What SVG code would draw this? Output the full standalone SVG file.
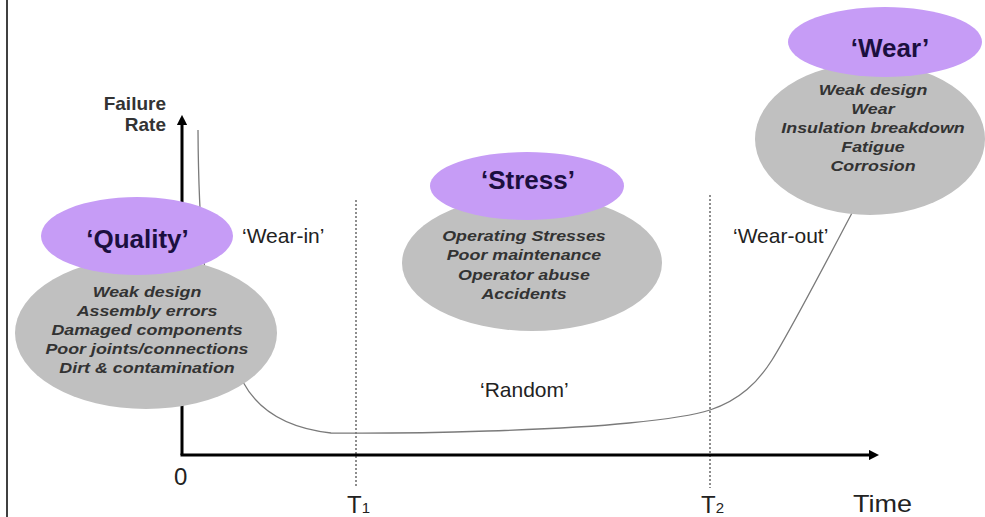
<svg xmlns="http://www.w3.org/2000/svg" width="985" height="517" viewBox="0 0 985 517">
<defs>
<style>
.gray{fill:#c0c0c0}
.purple{fill:#c69cf6}
.head{font-family:"Liberation Sans",Arial,sans-serif;font-weight:bold;font-size:26px;fill:#1b0f3f;text-anchor:middle}
.item{font-family:"Liberation Sans",Arial,sans-serif;font-weight:bold;font-style:italic;font-size:14.5px;fill:#333;text-anchor:middle}
.lbl{font-family:"Liberation Sans",Arial,sans-serif;font-size:21px;fill:#222}
.axlbl{font-family:"Liberation Sans",Arial,sans-serif;font-size:24px;fill:#222}
.axis{stroke:#000;stroke-width:3;fill:none}
.dot{stroke:#444;stroke-width:1.2;stroke-dasharray:2 2;fill:none}
.curve{stroke:#7a7a7a;stroke-width:1.3;fill:none}
</style>
<marker id="ah" viewBox="0 0 10 10" refX="2" refY="5" markerWidth="3.4" markerHeight="3.4" orient="auto" markerUnits="strokeWidth">
<path d="M0,0 L10,5 L0,10 z" fill="#000"/>
</marker>
</defs>
<rect x="0" y="0" width="985" height="517" fill="#fff"/>
<line x1="7" y1="0" x2="7" y2="517" stroke="#000" stroke-width="1.5"/>

<g id="connectors">
<line class="dot" x1="356" y1="200" x2="356" y2="488"/>
<line class="dot" x1="710" y1="195" x2="710" y2="488"/>
<path class="axis" d="M182,455 L182,123" marker-end="url(#ah)"/>
<path class="axis" d="M180.5,455 L871,455" marker-end="url(#ah)"/>
<path class="curve" d="M198,130 C199,300 215,340 243,382 C258,410 285,428 331,433 C420,434 560,430 629,423 C670,419 695,415 710,410 C740,400 758,382 772,360 C792,328 835,245 852,213"/>
</g>

<g id="quality">
<ellipse class="gray" cx="146" cy="333" rx="131" ry="76"/>
<ellipse class="purple" cx="137" cy="236" rx="96" ry="39"/>
<text class="head" x="137.5" y="248">‘Quality’</text>
<g transform="translate(147,0) scale(1.23,1)">
<text class="item" x="0" y="297">Weak design</text>
<text class="item" x="0" y="316">Assembly errors</text>
<text class="item" x="0" y="335">Damaged components</text>
<text class="item" x="0" y="354">Poor joints/connections</text>
<text class="item" x="0" y="373">Dirt &amp; contamination</text>
</g>
</g>

<g id="stress">
<ellipse class="gray" cx="532" cy="263" rx="130" ry="68"/>
<ellipse class="purple" cx="527" cy="186" rx="97" ry="34"/>
<text class="head" x="528" y="189">‘Stress’</text>
<g transform="translate(524,0) scale(1.23,1)">
<text class="item" x="0" y="241">Operating Stresses</text>
<text class="item" x="0" y="260.5">Poor maintenance</text>
<text class="item" x="0" y="280">Operator abuse</text>
<text class="item" x="0" y="299.5">Accidents</text>
</g>
</g>

<g id="wear">
<ellipse class="gray" cx="870" cy="139" rx="115" ry="76"/>
<ellipse class="purple" cx="885" cy="42" rx="97" ry="35"/>
<text class="head" x="890" y="57">‘Wear’</text>
<g transform="translate(873,0) scale(1.23,1)">
<text class="item" x="0" y="95">Weak design</text>
<text class="item" x="0" y="114">Wear</text>
<text class="item" x="0" y="133">Insulation breakdown</text>
<text class="item" x="0" y="152">Fatigue</text>
<text class="item" x="0" y="171">Corrosion</text>
</g>
</g>

<g id="labels">
<text x="166" y="110" font-family="Liberation Sans, Arial, sans-serif" font-weight="bold" font-size="19" fill="#333" text-anchor="end">Failure</text>
<text x="166" y="131" font-family="Liberation Sans, Arial, sans-serif" font-weight="bold" font-size="19" fill="#333" text-anchor="end">Rate</text>
<text class="lbl" x="242" y="243">‘Wear-in’</text>
<text class="lbl" x="733" y="243">‘Wear-out’</text>
<text class="lbl" x="480" y="397">‘Random’</text>
<text class="axlbl" x="174" y="485" font-size="21">0</text>
<text class="axlbl" x="347" y="513">T<tspan font-size="15">1</tspan></text>
<text class="axlbl" x="701" y="513">T<tspan font-size="15">2</tspan></text>
<text class="axlbl" x="853" y="512" textLength="59" lengthAdjust="spacingAndGlyphs">Time</text>
</g>
</svg>
